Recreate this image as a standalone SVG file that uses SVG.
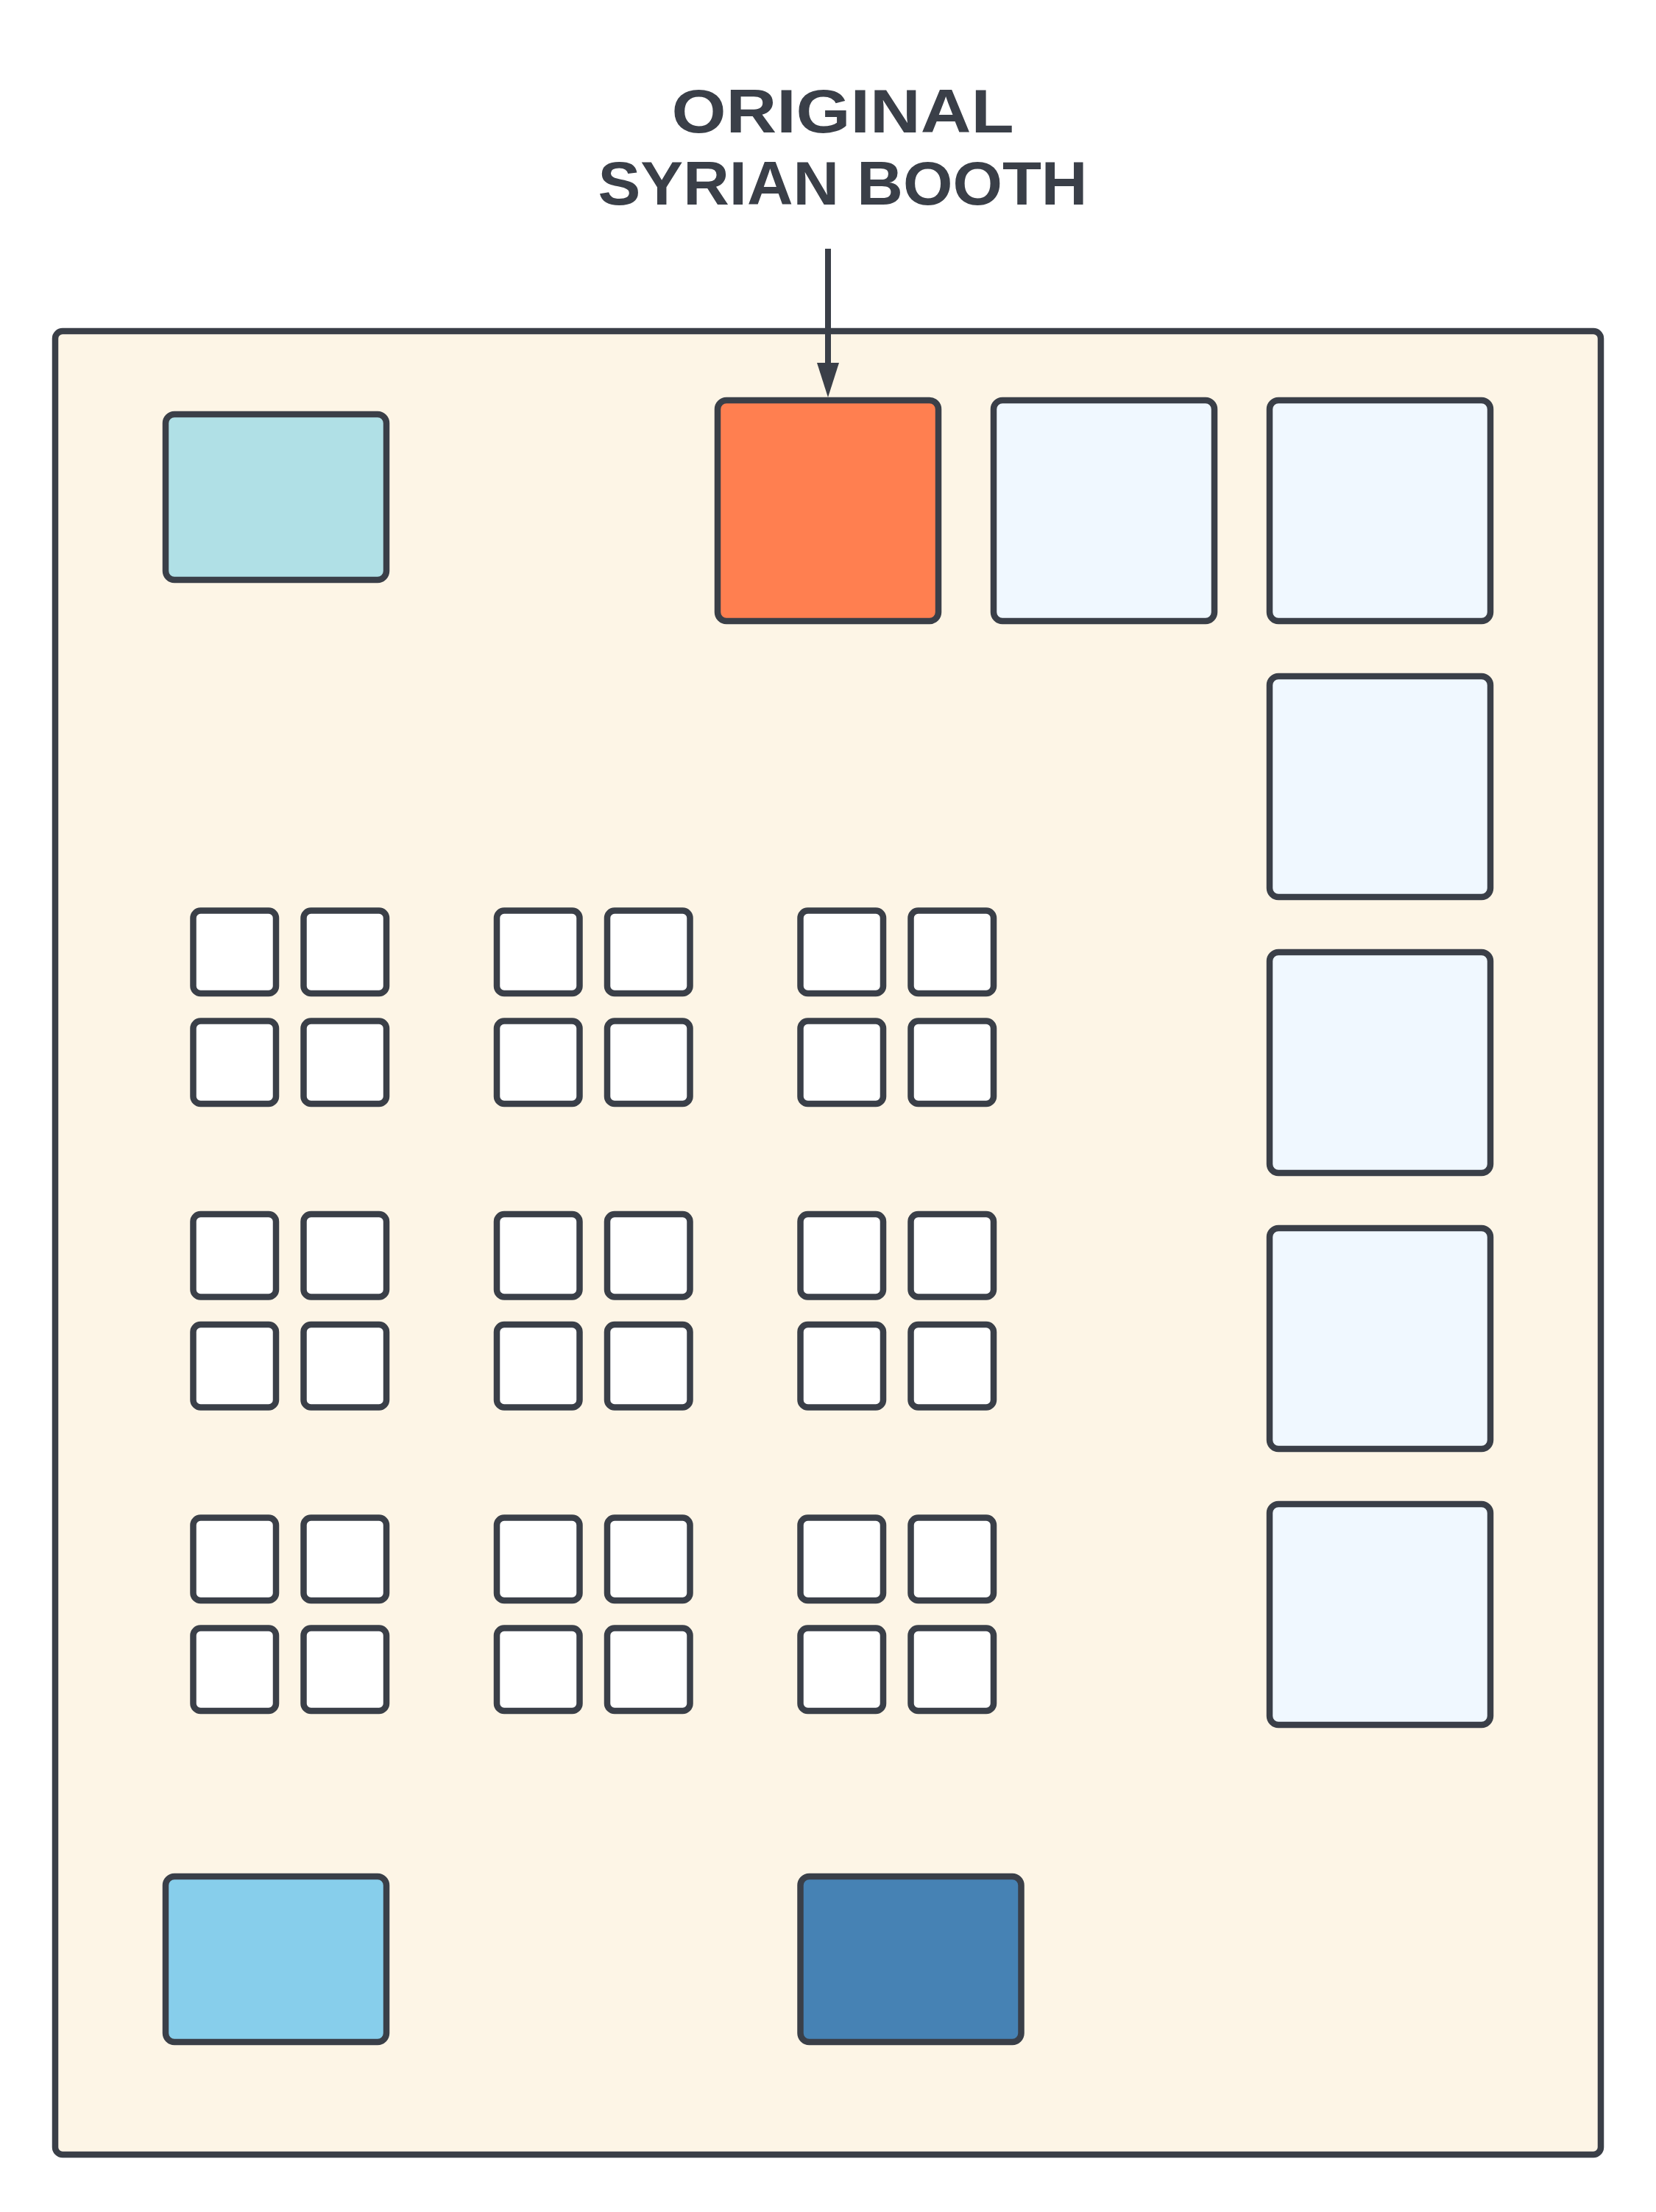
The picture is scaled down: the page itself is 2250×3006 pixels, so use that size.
<svg xmlns="http://www.w3.org/2000/svg" width="2250" height="3006" viewBox="0 0 2250 3006">
<defs>
<style>
.b{stroke:#3a3f48;stroke-width:8.5;stroke-linejoin:round}
.hall{fill:#fdf5e6}
.big{fill:#f0f8ff}
.seat{fill:#ffffff}
.lbl{font-family:"Liberation Sans",Arial,sans-serif;font-weight:bold;font-size:84px;fill:#3a3f48;text-anchor:middle}
.conn{stroke:#3a3f48;stroke-width:8;fill:none}
</style>
<marker id="ah" markerUnits="userSpaceOnUse" viewBox="0 0 47 30" markerWidth="47" markerHeight="30" refX="2" refY="15" orient="auto">
<path d="M0,0 L47,15 L0,30 Z" fill="#3a3f48"/>
</marker>
</defs>
<rect width="2250" height="3006" fill="#ffffff"/>
<g id="hall"><rect class="b hall" x="75" y="450" width="2100" height="2478" rx="10"/></g>
<g id="label">
<text class="lbl" x="1145" y="180" textLength="465" lengthAdjust="spacingAndGlyphs">ORIGINAL</text>
<text class="lbl" x="1145" y="278" textLength="665" lengthAdjust="spacingAndGlyphs">SYRIAN BOOTH</text>
</g>
<g id="teal-booth"><rect class="b" fill="#b0e0e6" x="225" y="563" width="300" height="225" rx="12"/></g>
<g id="syrian-booth"><rect class="b" fill="#ff7f50" x="975" y="544" width="300" height="300" rx="12"/></g>
<g id="booth-top-2"><rect class="b big" x="1350" y="544" width="300" height="300" rx="12"/></g>
<g id="booth-top-3"><rect class="b big" x="1725" y="544" width="300" height="300" rx="12"/></g>
<g id="booth-right-2"><rect class="b big" x="1725" y="919" width="300" height="300" rx="12"/></g>
<g id="booth-right-3"><rect class="b big" x="1725" y="1294" width="300" height="300" rx="12"/></g>
<g id="booth-right-4"><rect class="b big" x="1725" y="1669" width="300" height="300" rx="12"/></g>
<g id="booth-right-5"><rect class="b big" x="1725" y="2044" width="300" height="300" rx="12"/></g>
<g id="sky-booth"><rect class="b" fill="#87ceeb" x="225" y="2550" width="300" height="225" rx="12"/></g>
<g id="steel-booth"><rect class="b" fill="#4682b4" x="1087.5" y="2550" width="300" height="225" rx="12"/></g>
<g id="seats">
<g id="cluster-1-1"><rect class="b seat" x="262.5" y="1237.5" width="112.5" height="112.5" rx="10"/><rect class="b seat" x="412.5" y="1237.5" width="112.5" height="112.5" rx="10"/><rect class="b seat" x="262.5" y="1387.5" width="112.5" height="112.5" rx="10"/><rect class="b seat" x="412.5" y="1387.5" width="112.5" height="112.5" rx="10"/></g>
<g id="cluster-1-2"><rect class="b seat" x="675" y="1237.5" width="112.5" height="112.5" rx="10"/><rect class="b seat" x="825" y="1237.5" width="112.5" height="112.5" rx="10"/><rect class="b seat" x="675" y="1387.5" width="112.5" height="112.5" rx="10"/><rect class="b seat" x="825" y="1387.5" width="112.5" height="112.5" rx="10"/></g>
<g id="cluster-1-3"><rect class="b seat" x="1087.5" y="1237.5" width="112.5" height="112.5" rx="10"/><rect class="b seat" x="1237.5" y="1237.5" width="112.5" height="112.5" rx="10"/><rect class="b seat" x="1087.5" y="1387.5" width="112.5" height="112.5" rx="10"/><rect class="b seat" x="1237.5" y="1387.5" width="112.5" height="112.5" rx="10"/></g>
<g id="cluster-2-1"><rect class="b seat" x="262.5" y="1650" width="112.5" height="112.5" rx="10"/><rect class="b seat" x="412.5" y="1650" width="112.5" height="112.5" rx="10"/><rect class="b seat" x="262.5" y="1800" width="112.5" height="112.5" rx="10"/><rect class="b seat" x="412.5" y="1800" width="112.5" height="112.5" rx="10"/></g>
<g id="cluster-2-2"><rect class="b seat" x="675" y="1650" width="112.5" height="112.5" rx="10"/><rect class="b seat" x="825" y="1650" width="112.5" height="112.5" rx="10"/><rect class="b seat" x="675" y="1800" width="112.5" height="112.5" rx="10"/><rect class="b seat" x="825" y="1800" width="112.5" height="112.5" rx="10"/></g>
<g id="cluster-2-3"><rect class="b seat" x="1087.5" y="1650" width="112.5" height="112.5" rx="10"/><rect class="b seat" x="1237.5" y="1650" width="112.5" height="112.5" rx="10"/><rect class="b seat" x="1087.5" y="1800" width="112.5" height="112.5" rx="10"/><rect class="b seat" x="1237.5" y="1800" width="112.5" height="112.5" rx="10"/></g>
<g id="cluster-3-1"><rect class="b seat" x="262.5" y="2062.5" width="112.5" height="112.5" rx="10"/><rect class="b seat" x="412.5" y="2062.5" width="112.5" height="112.5" rx="10"/><rect class="b seat" x="262.5" y="2212.5" width="112.5" height="112.5" rx="10"/><rect class="b seat" x="412.5" y="2212.5" width="112.5" height="112.5" rx="10"/></g>
<g id="cluster-3-2"><rect class="b seat" x="675" y="2062.5" width="112.5" height="112.5" rx="10"/><rect class="b seat" x="825" y="2062.5" width="112.5" height="112.5" rx="10"/><rect class="b seat" x="675" y="2212.5" width="112.5" height="112.5" rx="10"/><rect class="b seat" x="825" y="2212.5" width="112.5" height="112.5" rx="10"/></g>
<g id="cluster-3-3"><rect class="b seat" x="1087.5" y="2062.5" width="112.5" height="112.5" rx="10"/><rect class="b seat" x="1237.5" y="2062.5" width="112.5" height="112.5" rx="10"/><rect class="b seat" x="1087.5" y="2212.5" width="112.5" height="112.5" rx="10"/><rect class="b seat" x="1237.5" y="2212.5" width="112.5" height="112.5" rx="10"/></g>
</g>
<g id="connectors">
<line class="conn" x1="1125" y1="338" x2="1125" y2="495" marker-end="url(#ah)"/>
</g>
</svg>
